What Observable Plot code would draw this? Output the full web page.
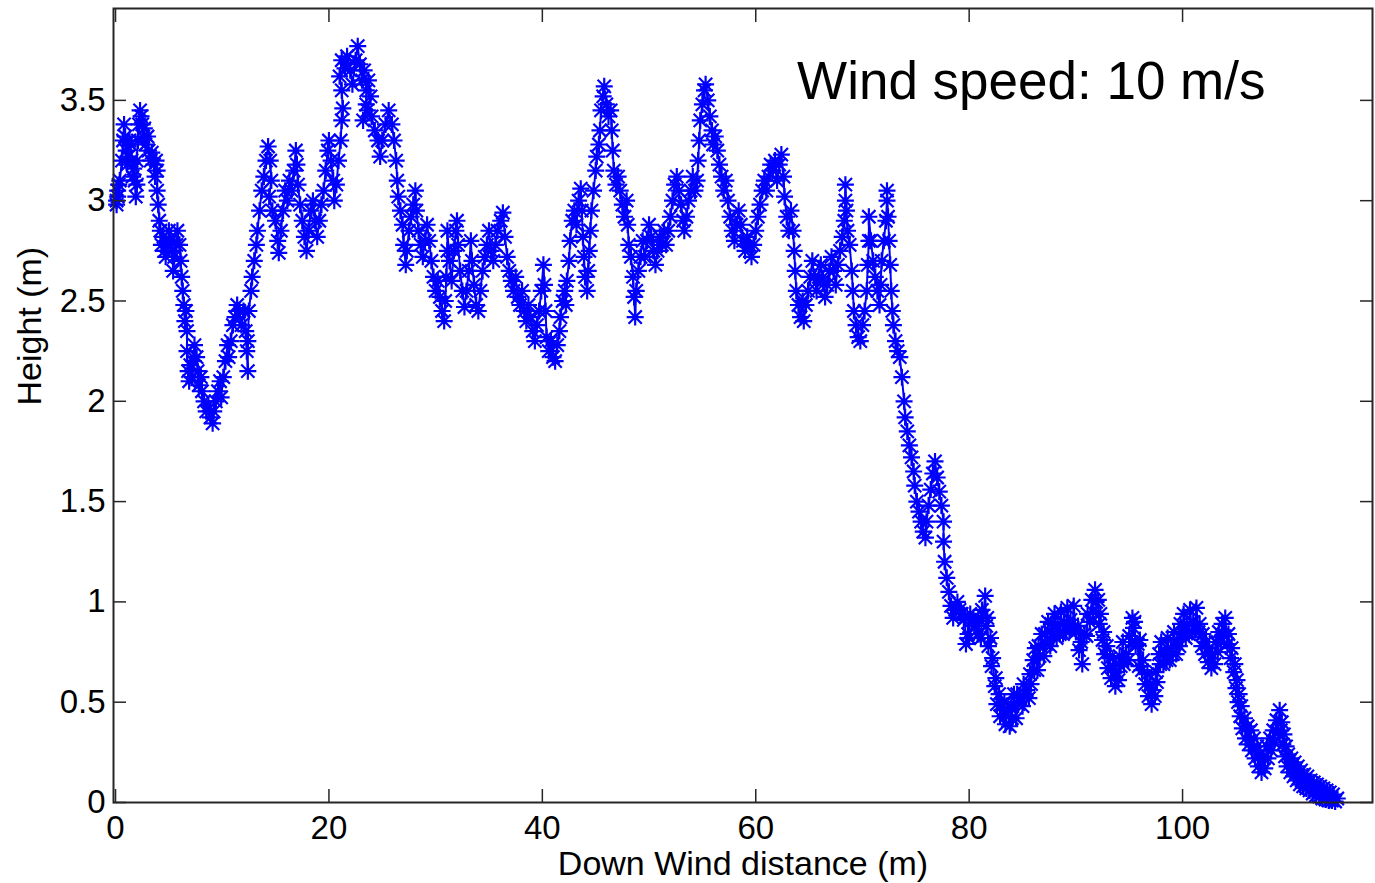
<!DOCTYPE html>
<html><head><meta charset="utf-8">
<script src="https://cdn.jsdelivr.net/npm/d3@7"></script>
<script src="https://cdn.jsdelivr.net/npm/@observablehq/plot@0.6"></script>
<style>body{margin:0;background:#fff;} #chart svg{display:block;}</style>
</head><body><div id="chart"></div>
<script>
// Tick values and texts
const xTicks = [0, 20, 40, 60, 80, 100];
const yTicks = [0, 0.5, 1, 1.5, 2, 2.5, 3, 3.5];
const xLabel = "Down Wind distance (m)";
const yLabel = "Height (m)";
const note = "Wind speed: 10 m/s";

// Trajectory: [down wind distance (m), height (m)]
const trackA = [
[0.1,3.0],[0.2,3.05],[0.1,2.98],[0.3,3.08],[0.2,3.02],[0.4,3.1],[0.6,3.2],[0.7,3.3],[0.8,3.38],[0.9,3.32],
[1.0,3.25],[1.1,3.18],[1.2,3.22],[1.3,3.3],[1.4,3.28],[1.5,3.2],[1.6,3.12],[1.7,3.16],[1.8,3.1],[1.9,3.02],
[2.0,3.08],[2.0,3.2],[2.1,3.3],[2.2,3.38],[2.3,3.45],[2.4,3.42],[2.5,3.38],[2.6,3.32],[2.7,3.36],[2.8,3.28],
[3.0,3.32],[3.1,3.25],[3.3,3.2],[3.4,3.24],[3.6,3.18],[3.7,3.12],[3.8,3.2],[3.9,3.15],[3.9,3.05],[4.0,2.98],
[4.1,2.9],[4.2,2.85],[4.3,2.78],[4.5,2.82],[4.6,2.75],[4.7,2.72],[4.9,2.78],[5.0,2.85],[5.1,2.8],[5.3,2.75],
[5.4,2.65],[5.5,2.72],[5.7,2.78],[5.8,2.85],[6.0,2.78],[6.1,2.7],[6.2,2.62],[6.3,2.55],[6.4,2.48],[6.5,2.4],
[6.6,2.45],[6.7,2.35],[6.7,2.25],[6.8,2.15],[6.9,2.1],[7.0,2.18],[7.2,2.12],[7.3,2.2],[7.4,2.28],[7.6,2.22],
[7.7,2.15],[7.8,2.08],[8.0,2.12],[8.1,2.05],[8.3,2.0],[8.5,1.95],[8.7,1.98],[8.9,1.92],[9.1,1.89],[9.2,1.95],
[9.4,2.0],[9.6,2.05],[9.8,2.1],[9.9,2.02],[10.1,2.12],[10.3,2.2],[10.5,2.28],[10.6,2.22],[10.8,2.3],[11.0,2.38],
[11.2,2.42],[11.4,2.48],[11.6,2.45],[11.8,2.38],[12.0,2.45],[12.2,2.35],[12.3,2.25],[12.4,2.15],[12.4,2.3],[12.5,2.45],
[12.7,2.55],[12.8,2.62],[13.0,2.7],[13.2,2.78],[13.3,2.85],[13.5,2.95],[13.7,3.05],[13.9,3.12],[14.1,3.2],[14.3,3.27],
[14.5,3.2],[14.6,3.1],[14.4,3.02],[14.7,2.95],[15.0,2.9],[15.2,2.8],[15.3,2.74],[15.5,2.85],[15.7,2.95],[15.9,3.05],
[16.1,3.0],[16.3,3.1],[16.5,3.05],[16.7,3.15],[16.9,3.25],[17.0,3.18],[17.1,3.08],[17.3,2.98],[17.5,2.9],[17.7,2.82],
[17.9,2.75],[18.1,2.85],[18.3,2.95],[18.5,3.0],[18.7,2.9],[18.9,2.82],[19.1,2.9],[19.3,2.98],[19.5,3.05],[19.7,3.15],
[19.9,3.25],[20.0,3.3],[20.2,3.2],[20.4,3.1],[20.5,3.0],[20.7,3.08],[20.9,3.2],[21.1,3.3],[21.2,3.4]
];
const trackB = [
[21.3,3.46],[21.2,3.55],[21.0,3.62],[21.2,3.7],[21.5,3.66],[21.7,3.72],[22.0,3.65],[22.2,3.58],[22.5,3.7],[22.7,3.77],
[22.9,3.68],[23.1,3.6],[23.3,3.65],[23.5,3.55],[23.7,3.6],[23.9,3.52],[23.6,3.45],[23.2,3.4],[23.5,3.48],[24.0,3.42],
[24.3,3.35],[24.6,3.3],[24.8,3.22],[25.0,3.3],[25.3,3.38],[25.6,3.45],[25.9,3.38],[26.1,3.3],[26.3,3.2],[26.4,3.1],
[26.5,3.02],[26.7,2.95],[26.9,2.88],[27.0,2.78],[27.2,2.68],[27.3,2.75],[27.5,2.85],[27.7,2.92],[27.9,2.98],[28.1,3.05],
[28.2,2.95],[28.4,2.85],[28.6,2.78],[28.8,2.72],[29.0,2.8],[29.2,2.88],[29.4,2.8],[29.6,2.7],[29.8,2.62],[30.0,2.55],
[30.2,2.6],[30.4,2.52],[30.6,2.45],[30.8,2.4],[30.9,2.5],[31.0,2.62],[31.1,2.75],[31.1,2.85],[31.3,2.7],[31.5,2.6],
[31.7,2.75],[31.9,2.85],[32.0,2.9],[32.1,2.78],[32.3,2.65],[32.5,2.55],[32.7,2.47],[32.9,2.55],[33.1,2.65],[33.3,2.8],
[33.4,2.7],[33.6,2.58],[33.8,2.48],[34.0,2.45],[34.2,2.55],[34.4,2.65],[34.6,2.72],[34.8,2.78],[35.0,2.85],[35.2,2.75],
[35.4,2.7],[35.6,2.78],[35.8,2.85],[36.1,2.9],[36.3,2.94],[36.5,2.82],[36.7,2.72],[36.9,2.65],[37.1,2.6],[37.3,2.55],
[37.5,2.62],[37.7,2.52],[37.9,2.48],[38.1,2.55],[38.3,2.45],[38.5,2.4],[38.7,2.48],[38.9,2.42],[39.1,2.35],[39.3,2.3],
[39.5,2.38],[39.7,2.45],[39.9,2.55],[40.1,2.68],[40.2,2.58],[40.3,2.45],[40.4,2.32],[40.6,2.25],[40.8,2.3],[41.0,2.22],
[41.2,2.2],[41.4,2.28],[41.6,2.35],[41.7,2.42],[41.9,2.5],[42.1,2.55],[42.2,2.48]
];
const trackC = [
[42.3,2.6],[42.5,2.7],[42.6,2.8],[42.8,2.9],[43.0,2.95],[43.2,2.88],[43.4,3.0],[43.6,3.06],[43.7,2.95],[43.8,2.82],
[43.9,2.72],[44.0,2.62],[44.2,2.55],[44.3,2.65],[44.4,2.75],[44.5,2.85],[44.6,2.95],[44.8,3.05],[45.0,3.15],[45.1,3.22],
[45.3,3.28],[45.4,3.35],[45.5,3.45],[45.7,3.52],[45.8,3.57],[46.0,3.48],[46.2,3.42],[46.4,3.45],[46.5,3.35],[46.6,3.25],
[46.7,3.15],[46.9,3.08],[47.1,3.12],[47.3,3.05],[47.5,2.98],[47.7,2.92],[47.9,3.0],[48.0,2.88],[48.1,2.78],[48.3,2.72],
[48.5,2.62],[48.6,2.52],[48.7,2.42],[48.8,2.55],[49.0,2.65],[49.2,2.72],[49.4,2.8],[49.6,2.72],[49.8,2.8],[50.0,2.88],
[50.2,2.82],[50.4,2.75],[50.6,2.68],[50.8,2.75],[51.0,2.82],[51.2,2.78],[51.4,2.85],[51.6,2.78],[51.8,2.85],[52.0,2.92],
[52.2,3.0],[52.4,3.08],[52.6,3.12],[52.8,3.05],[53.0,2.98],[53.2,2.9],[53.3,2.85],[53.5,2.92],[53.7,3.0],[53.9,3.05],
[54.1,3.12],[54.3,3.05],[54.5,3.1],[54.6,3.2],[54.7,3.3],[54.8,3.4],[55.0,3.48],[55.2,3.55],[55.3,3.58],[55.5,3.5],
[55.7,3.42],[55.9,3.35],[56.0,3.28],[56.2,3.32],[56.4,3.25],[56.6,3.18],[56.8,3.12],[57.0,3.05],[57.2,3.1],[57.4,3.0],
[57.6,2.92],[57.8,2.85],[58.0,2.8],[58.2,2.88],[58.4,2.95],[58.6,2.88],[58.8,2.8],[59.0,2.75],[59.2,2.82],[59.4,2.78],
[59.6,2.72],[59.8,2.78],[60.0,2.85],[60.2,2.92],[60.4,2.98],[60.6,3.05],[60.8,3.1],[61.0,3.05],[61.2,3.12],[61.4,3.18],
[61.6,3.15],[61.8,3.2],[62.0,3.1]
];
const trackD = [
[62.2,3.18],[62.4,3.23],[62.6,3.12],[62.7,3.02],[62.9,2.92],[63.1,2.85],[63.3,2.95],[63.5,2.85],[63.6,2.75],[63.7,2.65],
[63.8,2.55],[64.0,2.48],[64.2,2.42],[64.4,2.5],[64.5,2.4],[64.7,2.48],[64.9,2.55],[65.1,2.62],[65.3,2.7],[65.5,2.62],
[65.7,2.55],[65.9,2.62],[66.1,2.68],[66.3,2.6],[66.5,2.52],[66.7,2.58],[66.9,2.65],[67.1,2.72],[67.3,2.65],[67.5,2.58],
[67.7,2.68],[67.9,2.75],[68.1,2.82],[68.3,2.9],[68.4,3.0],[68.4,3.08],[68.5,2.95],[68.6,2.85],[68.8,2.78],[69.0,2.65],
[69.1,2.55],[69.2,2.45],[69.4,2.38],[69.6,2.32],[69.8,2.3],[70.0,2.38],[70.2,2.45],[70.4,2.55],[70.5,2.68],[70.6,2.8],
[70.6,2.92],[70.8,2.8],[71.0,2.7],[71.2,2.62],[71.4,2.55],[71.6,2.48],[71.7,2.58],[71.8,2.7],[72.0,2.8],[72.2,2.9],
[72.3,3.0],[72.3,3.05],[72.4,2.92],[72.5,2.8],[72.6,2.68],[72.7,2.55],[72.8,2.45],[72.9,2.38],[73.1,2.3],[73.3,2.25],
[73.5,2.22],[73.7,2.12],[73.9,2.0],[74.0,1.92],[74.2,1.85],[74.4,1.78],[74.6,1.72],[74.8,1.65],[74.9,1.58],[75.1,1.5],
[75.3,1.45],[75.5,1.4],[75.7,1.35],[75.9,1.32],[76.0,1.4],[76.2,1.48],[76.4,1.56],[76.6,1.64],[76.8,1.7],[77.0,1.62],
[77.2,1.55],[77.4,1.48],[77.6,1.4],[77.6,1.3],[77.7,1.2],[77.9,1.12],[78.1,1.05],[78.3,0.98],[78.5,0.92],[78.7,0.96],
[78.9,1.0]
];
const trackE = [
[79.1,0.96],[79.2,0.94],[79.3,0.94],[79.5,0.91],[79.6,0.92],[79.7,0.79],[79.9,0.84],[80.0,0.82],[80.1,0.94],[80.3,0.91],
[80.4,0.92],[80.5,0.88],[80.7,0.88],[80.8,0.84],[80.9,0.84],[81.1,0.82],[81.2,0.96],[81.3,0.93],[81.5,1.03],[81.6,0.88],
[81.7,0.92],[81.8,0.78],[82.0,0.82],[82.1,0.68],[82.2,0.72],[82.4,0.58],[82.5,0.62],[82.6,0.49],[82.8,0.54],[82.9,0.43],
[83.0,0.49],[83.2,0.46],[83.3,0.5],[83.4,0.39],[83.6,0.46],[83.8,0.38],[83.9,0.47],[84.0,0.42],[84.2,0.54],[84.4,0.42],
[84.5,0.54],[84.6,0.49],[84.8,0.52],[85.0,0.48],[85.1,0.59],[85.2,0.54],[85.4,0.56],[85.6,0.52],[85.7,0.64],[85.8,0.59],
[86.0,0.71],[86.1,0.66],[86.2,0.77],[86.4,0.66],[86.5,0.78],[86.6,0.73],[86.8,0.84],[87.0,0.73],[87.1,0.84],[87.2,0.79],
[87.4,0.9],[87.6,0.78],[87.7,0.89],[87.8,0.84],[88.0,0.94],[88.2,0.82],[88.3,0.88],[88.5,0.84],[88.6,0.95],[88.8,0.84],
[88.9,0.9],[89.1,0.86],[89.2,0.97],[89.4,0.86],[89.5,0.91],[89.7,0.87],[89.8,0.98],[90.0,0.85],[90.2,0.88],[90.3,0.76],
[90.5,0.8],[90.6,0.69],[90.8,0.84],[91.0,0.83],[91.1,0.94],[91.3,0.9],[91.5,1.01],[91.6,0.95],[91.8,1.06],[91.9,1.0],
[92.1,1.01],[92.2,0.89],[92.3,0.94],[92.5,0.81],[92.6,0.85],[92.7,0.74],[92.9,0.78],[93.0,0.67],[93.2,0.72],[93.3,0.62],
[93.5,0.68],[93.7,0.58],[93.8,0.65],[94.0,0.61],[94.1,0.73],[94.2,0.68],[94.4,0.8],[94.5,0.69],[94.7,0.74],[94.9,0.71],
[95.0,0.83],[95.2,0.8],[95.3,0.92],[95.4,0.87],[95.5,0.9],[95.6,0.78],[95.8,0.79],[95.9,0.68],[96.0,0.81],[96.2,0.66],
[96.3,0.71],[96.5,0.59],[96.7,0.64],[96.8,0.53],[97.0,0.59],[97.1,0.49],[97.2,0.56],[97.4,0.53],[97.5,0.65],[97.6,0.6],
[97.8,0.74],[97.9,0.69],[98.0,0.8],[98.2,0.69],[98.3,0.75],[98.5,0.71],[98.6,0.82],[98.8,0.71],[98.9,0.77],[99.1,0.74],
[99.2,0.85],[99.4,0.74],[99.5,0.81],[99.7,0.78],[99.8,0.89],[100.0,0.84],[100.1,0.94],[100.3,0.82],[100.4,0.88],[100.6,0.84],
[100.7,0.96],[100.9,0.85],[101.0,0.9],[101.2,0.86],[101.3,0.97],[101.5,0.85],[101.6,0.89],[101.8,0.78],[101.9,0.84],[102.1,0.74],
[102.2,0.8],[102.4,0.7],[102.5,0.77],[102.7,0.67],[102.8,0.74],[103.0,0.69],[103.1,0.8],[103.3,0.75],[103.4,0.85],[103.6,0.8],
[103.7,0.89],[103.9,0.83],[104.0,0.92],[104.2,0.79],[104.3,0.84],[104.5,0.72],[104.6,0.77],[104.8,0.65],[104.9,0.69],[105.0,0.57],
[105.1,0.61],[105.2,0.5],[105.3,0.54],[105.4,0.43],[105.5,0.48],[105.6,0.37],[105.8,0.42],[105.9,0.32],[106.1,0.38],[106.2,0.29],
[106.4,0.36],[106.5,0.26],[106.7,0.32],[106.8,0.22],[107.0,0.28],[107.1,0.18],[107.3,0.24],[107.4,0.15],[107.6,0.22],[107.7,0.17],
[107.9,0.28],[108.0,0.22],[108.2,0.32],[108.3,0.26],[108.5,0.36],[108.6,0.3],[108.8,0.41],[108.9,0.35],[109.1,0.46],[109.2,0.36],
[109.3,0.4],[109.4,0.29],[109.5,0.34],[109.6,0.23],[109.7,0.28],[109.8,0.18],[109.9,0.24],[110.1,0.15],[110.2,0.22],[110.4,0.13],
[110.5,0.2],[110.7,0.11],[110.8,0.18],[111.0,0.09],[111.1,0.16],[111.3,0.08],[111.4,0.14],[111.6,0.07],[111.7,0.13],[111.9,0.06],
[112.0,0.11],[112.2,0.045],[112.3,0.1],[112.5,0.035],[112.6,0.09],[112.8,0.03],[112.9,0.08],[113.1,0.02],[113.2,0.07],[113.4,0.015],
[113.5,0.06],[113.7,0.01],[113.8,0.05],[114.0,0.01],[114.1,0.04],[114.3,0.005],[114.5,0.02]
];

const data = [...trackA, ...trackB, ...trackC, ...trackD, ...trackE]
  .map(([distance, height]) => ({distance, height}));

// MATLAB-like '*' marker: a plus with an x over it
const star = {
  draw(ctx, size) {
    const r = Math.sqrt(size / Math.PI);
    const d = r * 0.78;
    ctx.moveTo(-r, 0); ctx.lineTo(r, 0);
    ctx.moveTo(0, -r); ctx.lineTo(0, r);
    ctx.moveTo(-d, -d); ctx.lineTo(d, d);
    ctx.moveTo(-d, d); ctx.lineTo(d, -d);
  }
};

const font = "'Liberation Sans', Arial, Helvetica, sans-serif";
const axisColor = "#262626";
const blue = "#0000ff";

const chart = Plot.plot({
  width: 1375,
  height: 883,
  marginLeft: 113,
  marginRight: 3,
  marginTop: 8,
  marginBottom: 81,
  style: {fontFamily: font, background: "#fff", color: "#000"},
  x: {domain: [-0.19, 117.8]},
  y: {domain: [0, 3.958]},
  marks: [
    Plot.line(data, {x: "distance", y: "height", stroke: blue, strokeWidth: 2}),
    Plot.dot(data, {x: "distance", y: "height", symbol: star, r: 8.5, stroke: blue, strokeWidth: 2.2, fill: "none"}),
    // inward ticks on all four sides
    Plot.axisX({anchor: "bottom", ticks: xTicks, tickSize: -13, fill: "none", label: null, stroke: axisColor, strokeWidth: 1.5}),
    Plot.axisX({anchor: "top", ticks: xTicks, tickSize: -13, fill: "none", label: null, stroke: axisColor, strokeWidth: 1.5}),
    Plot.axisY({anchor: "left", ticks: yTicks, tickSize: -13, fill: "none", label: null, stroke: axisColor, strokeWidth: 1.5}),
    Plot.axisY({anchor: "right", ticks: yTicks, tickSize: -13, fill: "none", label: null, stroke: axisColor, strokeWidth: 1.5}),
    // tick labels
    Plot.axisX({anchor: "bottom", ticks: xTicks, tickSize: 0, tickPadding: 13, fontSize: 33, label: null, fill: "#000", tickFormat: d => String(d)}),
    Plot.axisY({anchor: "left", ticks: yTicks, tickSize: 0, tickPadding: 8, fontSize: 33, label: null, fill: "#000", tickFormat: d => String(d)}),
    Plot.frame({stroke: axisColor, strokeWidth: 2}),
    // axis titles and annotation
    Plot.text([xLabel], {frameAnchor: "bottom", lineAnchor: "top", dy: 48, fontSize: 34, fill: "#000"}),
    Plot.text([yLabel], {frameAnchor: "left", rotate: -90, lineAnchor: "middle", dx: -83, fontSize: 34, fill: "#000"}),
    Plot.text([note], {frameAnchor: "top-right", textAnchor: "end", lineAnchor: "top", dx: -107, dy: 53, fontSize: 53, fill: "#000"})
  ]
});
document.getElementById("chart").appendChild(chart);
</script>
</body></html>
